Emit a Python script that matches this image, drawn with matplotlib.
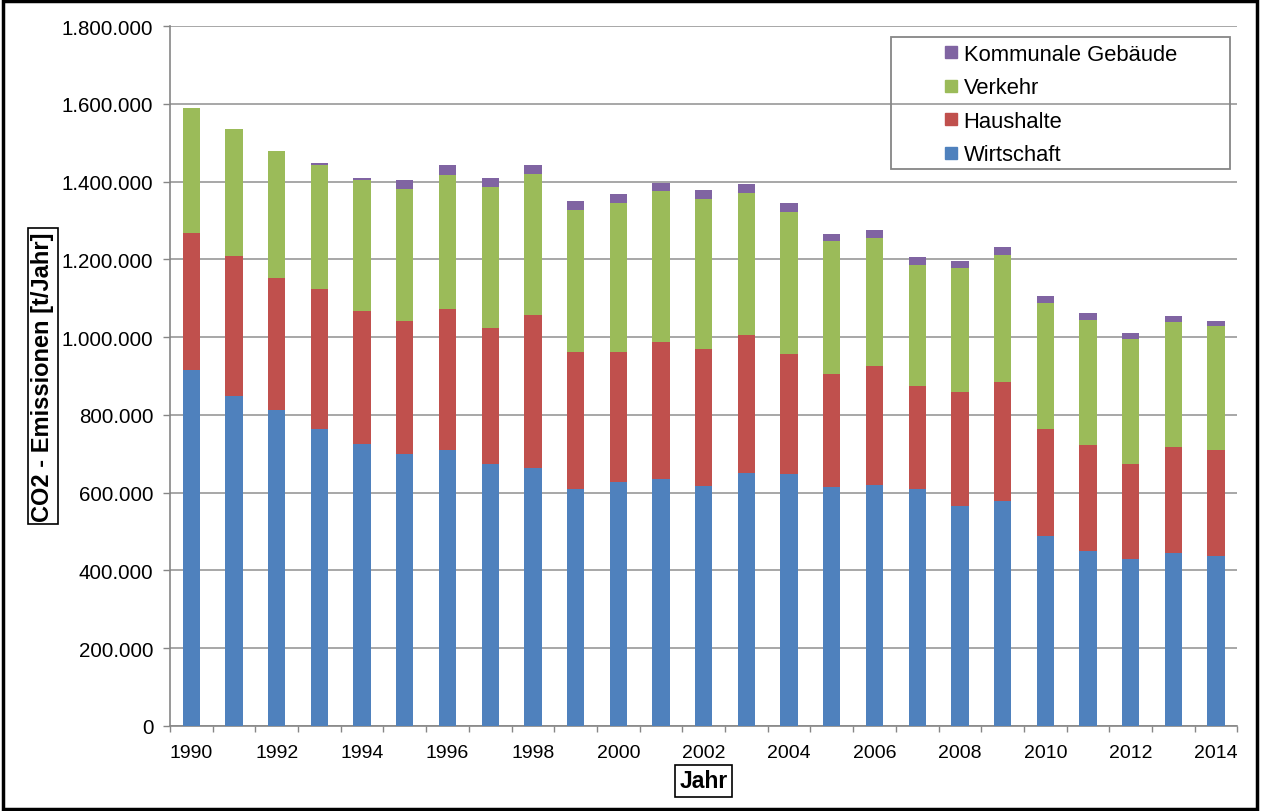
import matplotlib.pyplot as plt
import matplotlib.patches as mpatches
from matplotlib.lines import Line2D
from matplotlib.ticker import FuncFormatter
import numpy as np

plt.rcParams['font.family'] = ['Liberation Sans', 'DejaVu Sans']

# Daten (t CO2 / Jahr)
jahre = list(range(1990, 2015))
wirtschaft = [916000, 849000, 812000, 765000, 725000, 699000, 709000, 675000, 663000,
              609000, 628000, 635000, 617000, 651000, 648000, 615000, 620000, 610000,
              566000, 579000, 489000, 450000, 429000, 446000, 437000]
haushalte = [352000, 360000, 340000, 359000, 341000, 342000, 364000, 348000, 393000,
             353000, 334000, 352000, 352000, 354000, 309000, 289000, 306000, 264000,
             292000, 306000, 275000, 273000, 245000, 271000, 273000]
verkehr = [320000, 326000, 326000, 319000, 338000, 340000, 345000, 363000, 363000,
           365000, 384000, 389000, 387000, 366000, 366000, 343000, 330000, 312000,
           320000, 326000, 324000, 322000, 321000, 322000, 319000]
kommunal = [0, 0, 0, 5000, 4000, 23000, 25000, 23000, 24000, 22000, 22000, 21000,
            22000, 22000, 22000, 19000, 19000, 19000, 19000, 20000, 18000, 17000,
            15000, 15000, 12000]

serien = [('Wirtschaft', wirtschaft, '#4F81BD'),
          ('Haushalte', haushalte, '#C0504D'),
          ('Verkehr', verkehr, '#9BBB59'),
          ('Kommunale Gebäude', kommunal, '#8064A2')]

fig = plt.figure(figsize=(12.61, 8.12), dpi=100)
ax = fig.add_axes([0.1348, 0.1047, 0.8465, 0.862])

x = np.arange(len(jahre))
unten = np.zeros(len(jahre))
for name, werte, farbe in serien:
    ax.bar(x, werte, width=0.405, bottom=unten, color=farbe, linewidth=0, zorder=3)
    unten += np.array(werte)

# Achsen
ax.set_xlim(-0.5, len(jahre) - 0.5)
ax.set_ylim(0, 1800000)
ax.set_yticks(np.arange(0, 1800001, 200000))
ax.yaxis.set_major_formatter(FuncFormatter(lambda v, p: f'{v:,.0f}'.replace(',', '.')))
ax.grid(axis='y', color='#A0A0A0', linewidth=1.3, zorder=0)

ax.set_xticks(x[::2])
ax.set_xticklabels([str(j) for j in jahre[::2]])
ax.set_xticks(np.arange(-0.5, len(jahre), 1), minor=True)
ax.tick_params(axis='x', which='major', length=0, pad=13, labelsize=14)
ax.tick_params(axis='x', which='minor', length=4.5, color='#868686', width=1)
ax.tick_params(axis='y', length=5, color='#868686', width=1, pad=7, labelsize=14.8)

for s in ['top', 'right']:
    ax.spines[s].set_visible(False)
for s in ['left', 'bottom']:
    ax.spines[s].set_color('#868686')
    ax.spines[s].set_linewidth(1.2)

ax.set_ylabel('CO2 - Emissionen [t/Jahr]', fontsize=17, fontweight='bold',
              bbox=dict(boxstyle='square,pad=0.15', facecolor='white', edgecolor='black', linewidth=1.2))
ax.yaxis.label.set_va('center')
ax.yaxis.set_label_coords(-0.119, 0.5)
ax.set_xlabel('Jahr', fontsize=16.5, fontweight='bold', labelpad=6,
              bbox=dict(boxstyle='square,pad=0.2', facecolor='white', edgecolor='black', linewidth=1.2))

# Legende
handles = [Line2D([], [], marker='s', linestyle='none', markersize=8, color=f)
           for n, w, f in serien[::-1]]
labels = [n for n, w, f in serien[::-1]]
leg = ax.legend(handles, labels, loc='upper left', bbox_to_anchor=(933 / 1261, 1 - 34 / 812),
                bbox_transform=fig.transFigure, frameon=False, fontsize=15.8,
                handlelength=0.6, handletextpad=0.3, labelspacing=0.57, borderpad=0)
fig.patches.append(mpatches.Rectangle((891 / 1261, 1 - 170 / 812), 339 / 1261, 132 / 812,
                                      transform=fig.transFigure, fill=False,
                                      edgecolor='#868686', linewidth=1.3))

# Rahmen um die Grafik
fig.patches.append(mpatches.Rectangle((0.002, 0.003), 0.995, 0.994, transform=fig.transFigure,
                                      fill=False, edgecolor='black', linewidth=2.5))

plt.savefig('out.png', dpi=100)
